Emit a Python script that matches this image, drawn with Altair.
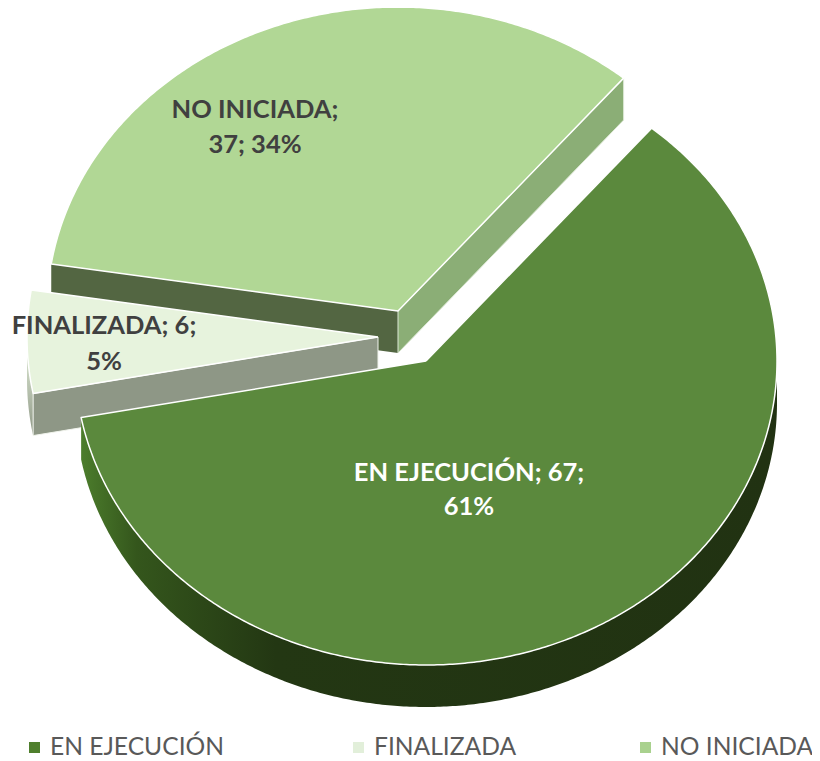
import math
import altair as alt
import pandas as pd

categories = ["EN EJECUCIÓN", "FINALIZADA", "NO INICIADA"]
values = [67, 6, 37]
percents = [61, 5, 34]
top_colors = ["#5B893D", "#E7F3DD", "#B1D795"]
legend_colors = ["#4F7F2D", "#E2EFDA", "#A9D18E"]
cut_colors = ["#223513", "#8E9786", "#8BAE76"]
back_cut_color = "#536642"

label_lines = [["EN EJECUCIÓN; 67;", "61%"], ["FINALIZADA; 6;", "5%"], ["NO INICIADA;", "37; 34%"]]
label_x = [469, 104, 255]
label_y = [[473, 507], [326, 362], [110, 145]]
label_colors = ["#FFFFFF", "#404040", "#404040"]

legend_x = [34.5, 358.5, 645.5]
legend_y = 747.5

# pie layout
start_deg = 40.0
rx, ry, depth = 351.0, 304.0, 42.0
apex = [(426, 361), (378, 337), (398, 311)]

W, H = 804, 753
x_scale = alt.Scale(domain=[8, 8 + W], range=[0, W], nice=False, zero=False)
y_scale = alt.Scale(domain=[8 + H, 8], range=[H, 0], nice=False, zero=False)


def pt(c, t, dy=0.0):
    r = math.radians(t)
    return (c[0] + rx * math.sin(r), c[1] - ry * math.cos(r) + dy)


def arc(c, a, b, dy=0.0):
    n = max(2, int(abs(b - a)) * 2)
    return [pt(c, a + (b - a) * i / n, dy) for i in range(n + 1)]


def poly(points, fill, stroke=None, sw=1.5):
    pts = list(points) + [points[0]]
    df = pd.DataFrame({"px": [p[0] for p in pts], "py": [p[1] for p in pts], "i": range(len(pts))})
    return alt.Chart(df).mark_line(
        fill=fill, stroke=stroke or "transparent", strokeWidth=sw, strokeJoin="round", interpolate="linear"
    ).encode(
        x=alt.X("px:Q", scale=x_scale, axis=None),
        y=alt.Y("py:Q", scale=y_scale, axis=None),
        order=alt.Order("i:Q"),
    )


total = sum(values)
angles = []
a = start_deg
for v in values:
    angles.append((a, a + 360.0 * v / total))
    a += 360.0 * v / total

layers = []

# NO INICIADA
s, e = angles[2]
c = apex[2]
p_s, p_e = pt(c, s), pt(c, e)
layers.append(poly([c, p_s, (p_s[0], p_s[1] + depth), (c[0], c[1] + depth)], back_cut_color))
layers.append(poly([c, p_e, (p_e[0], p_e[1] + depth), (c[0], c[1] + depth)], cut_colors[2], "#DDE8D5", 1))
layers.append(poly([c] + arc(c, s, e), top_colors[2], "#FFFFFF", 1.5))

# FINALIZADA
s, e = angles[1]
c = apex[1]
p_s = pt(c, s)
layers.append(poly(arc(c, s, 270) + arc(c, 270, s, depth),
                   alt.Gradient(gradient="linear", x1=0, x2=0, y1=0, y2=1,
                                stops=[alt.GradientStop(offset=0, color="#E7F3DD"),
                                       alt.GradientStop(offset=1, color="#8E9786")])))
layers.append(poly([c, p_s, (p_s[0], p_s[1] + depth), (c[0], c[1] + depth)], cut_colors[1], "#F0F3EC", 1))
layers.append(poly([c] + arc(c, s, e), top_colors[1], "#FFFFFF", 1.5))

# EN EJECUCIÓN
s, e = angles[0]
c = apex[0]
wall = arc(c, 90, e) + arc(c, e, 90, depth)
layers.append(poly(wall,
                   alt.Gradient(gradient="linear", x1=0, x2=1, y1=0, y2=0,
                                stops=[alt.GradientStop(offset=0, color="#4C7D2C"),
                                       alt.GradientStop(offset=0.08, color="#34561C"),
                                       alt.GradientStop(offset=0.28, color="#233713"),
                                       alt.GradientStop(offset=1, color="#213212")])))
layers.append(poly([c] + arc(c, s, e), top_colors[0], "#FFFFFF", 1.5))

# data labels
rows = []
for i, cat in enumerate(categories):
    for line, yy in zip(label_lines[i], label_y[i]):
        rows.append({"px": label_x[i], "py": yy, "t": line, "k": cat})
labels = alt.Chart(pd.DataFrame(rows)).mark_text(
    font="Lato", fontWeight="bold", fontSize=25.5, align="center", baseline="middle"
).encode(
    x=alt.X("px:Q", scale=x_scale, axis=None),
    y=alt.Y("py:Q", scale=y_scale, axis=None),
    text="t:N",
    color=alt.Color("k:N", scale=alt.Scale(domain=categories, range=label_colors), legend=None),
)
layers.append(labels)

# legend
leg = pd.DataFrame({"px": legend_x, "py": [legend_y] * 3, "t": categories})
layers.append(
    alt.Chart(leg).mark_square(size=121, opacity=1).encode(
        x=alt.X("px:Q", scale=x_scale, axis=None),
        y=alt.Y("py:Q", scale=y_scale, axis=None),
        fill=alt.Fill("t:N", scale=alt.Scale(domain=categories, range=legend_colors), legend=None),
    )
)
layers.append(
    alt.Chart(leg).transform_calculate(tx="datum.px + 15.5").mark_text(
        font="Lato", fontSize=24.6, align="left", baseline="middle", color="#595959"
    ).encode(
        x=alt.X("tx:Q", scale=x_scale, axis=None),
        y=alt.Y("py:Q", scale=y_scale, axis=None),
        text="t:N",
    )
)

chart = alt.layer(*layers).resolve_scale(color="independent", fill="independent").properties(
    width=W, height=H, padding=0, autosize=alt.AutoSizeParams(type="none")
).configure_view(stroke=None)

chart.save("out.html", embed_options={"renderer": "svg", "actions": False})
